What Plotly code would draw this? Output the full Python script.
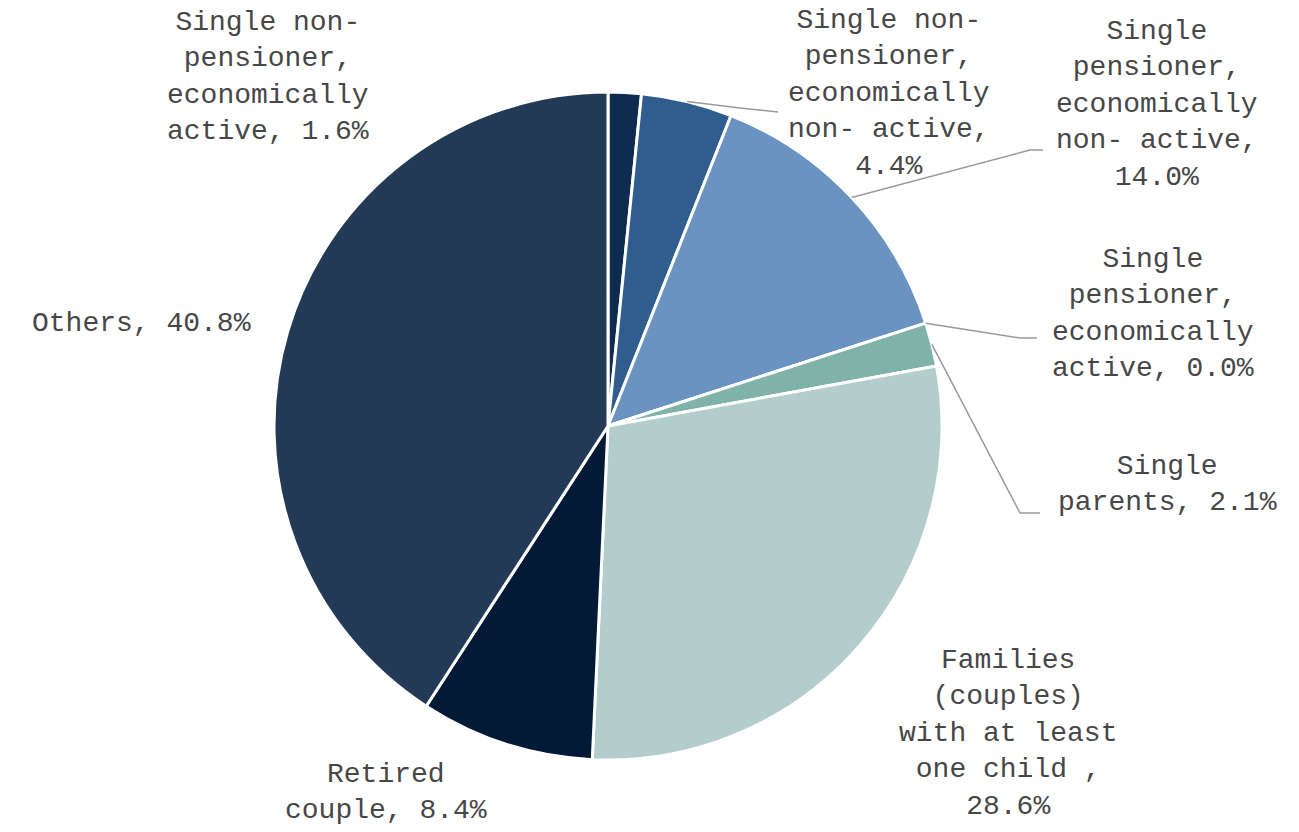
import math
import plotly.graph_objects as go

# ---- data ----
categories = [
    "Single non-pensioner, economically active",
    "Single non-pensioner, economically non- active",
    "Single pensioner, economically non- active",
    "Single pensioner, economically active",
    "Single parents",
    "Families (couples) with at least one child ",
    "Retired couple",
    "Others",
]
values = [1.6, 4.4, 14.0, 0.0, 2.1, 28.6, 8.4, 40.8]
label_lines = [
    ["Single non-", "pensioner,", "economically", "active, 1.6%"],
    ["Single non-", "pensioner,", "economically", "non- active,", "4.4%"],
    ["Single", "pensioner,", "economically", "non- active,", "14.0%"],
    ["Single", "pensioner,", "economically", "active, 0.0%"],
    ["Single", "parents, 2.1%"],
    ["Families", "(couples)", "with at least", "one child ,", "28.6%"],
    ["Retired", "couple, 8.4%"],
    ["Others, 40.8%"],
]

# ---- style / layout ----
colors = ["#0f2c50", "#2f5e8e", "#6a93c2", "#4f8a8b", "#7fb2a8", "#b3cdcd", "#021a35", "#233a57"]
W, H = 1299, 832
CX, CY, R = 608, 426, 334
# label centers in pixels
label_pos = [(268, 77), (889, 93), (1157, 104), (1153, 314), (1167, 484), (1008, 733), (386, 792), (141, 323)]
# leader lines: (elbow point, end point) in pixels; None means no leader
leaders = [None, ((740, 108), (778, 112)), ((1030, 150), (1043, 150)), ((1020, 338), (1037, 338)),
           ((1020, 513), (1040, 513)), None, None, None]

def px2paper(x, y):
    return x / W, 1 - y / H

fig = go.Figure()
x0, y1 = px2paper(CX - R, CY - R)
x1, y0 = px2paper(CX + R, CY + R)
fig.add_trace(go.Pie(
    labels=categories, values=values, sort=False, direction="clockwise", rotation=0,
    marker=dict(colors=colors, line=dict(color="white", width=3)),
    textinfo="none", hoverinfo="label+percent", showlegend=False,
    domain=dict(x=[x0, x1], y=[y0, y1]),
))

total = sum(values)
cum = 0.0
shapes = []
annotations = []
for i, v in enumerate(values):
    mid = (cum + v / 2) / total
    cum += v
    ang = 2 * math.pi * mid
    ax_, ay_ = CX + R * math.sin(ang), CY - R * math.cos(ang)
    if leaders[i] is not None:
        (ex, ey), (fx, fy) = leaders[i]
        pts = [px2paper(ax_, ay_), px2paper(ex, ey), px2paper(fx, fy)]
        path = "M {} {} L {} {} L {} {}".format(*[c for p in pts for c in p])
        shapes.append(dict(type="path", xref="paper", yref="paper", path=path,
                           line=dict(color="#9a9a9a", width=1.5)))
    lx, ly = px2paper(*label_pos[i])
    annotations.append(dict(
        x=lx, y=ly, xref="paper", yref="paper", xanchor="center", yanchor="middle",
        text="<br>".join(label_lines[i]), showarrow=False, align="center",
        font=dict(family="Liberation Mono", size=28, color="#474747"),
    ))

fig.update_layout(
    width=W, height=H, margin=dict(l=0, r=0, t=0, b=0),
    paper_bgcolor="white", plot_bgcolor="white",
    shapes=shapes, annotations=annotations,
)
fig.write_html("out.html", config={"displayModeBar": False},
               post_script="document.body.style.margin='0px';")
